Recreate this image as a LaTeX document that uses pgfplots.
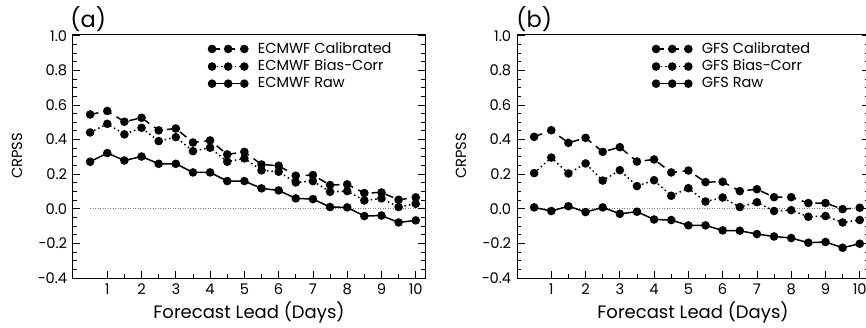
\documentclass[border=0pt]{standalone}
\usepackage{fontspec}
\setmainfont{Poppins}
\usepackage{pgfplots}
\pgfplotsset{compat=1.18}

\pgfplotsset{
  crp/.style={
    width=211.2pt, height=146.4pt, scale only axis, clip=false,
    xmin=0, xmax=10.27, ymin=-0.4, ymax=1.01,
    xtick={1,2,3,4,5,6,7,8,9,10}, minor x tick num=1,
    ytick={-0.4,-0.2,0,0.2,0.4,0.6,0.8,1.0},
    yticklabels={−0.4,−0.2,0.0,0.2,0.4,0.6,0.8,1.0},
    minor y tick num=3,
    tick align=inside,
    xtick pos=bottom, ytick pos=both, yticklabel pos=left,
    major tick length=4.5pt, minor tick length=2.5pt,
    tick style={black, line width=0.5pt},
    axis line style={line width=0.6pt},
    /pgf/number format/assume math mode=true,
    ticklabel style={font=\fontsize{8.8}{10}\selectfont},
    xlabel={Forecast Lead (Days)}, ylabel={CRPSS},
    xlabel style={font=\fontsize{10.8}{12}\selectfont, at={(axis description cs:0.5,-0.139)}, anchor=center},
    ylabel style={font=\fontsize{8.8}{10}\selectfont, at={(axis description cs:-0.159,0.5)}, anchor=center},
    legend style={draw=none, fill=none, at={(0.37,0.995)}, anchor=north west,
      font=\fontsize{8.7}{9}\selectfont, row sep=-1.6pt},
    legend cell align=left,
    legend image code/.code={\draw[mark repeat=1,mark phase=1] plot coordinates {(0cm,0cm) (0.34cm,0cm) (0.68cm,0cm)};\path (0.88cm,0);},
  },
  cal/.style={black, line width=0.9pt, dash pattern=on 5pt off 3.5pt, mark=*, mark size=2.1pt, mark options={solid, fill=black}},
  bia/.style={black, line width=0.9pt, dash pattern=on 0.9pt off 1.8pt, mark=*, mark size=2.1pt, mark options={solid, fill=black}},
  raw/.style={black, line width=0.9pt, solid, mark=*, mark size=2.1pt, mark options={solid, fill=black}},
}

\begin{document}
\begin{tikzpicture}
\begin{axis}[crp, at={(0pt,0pt)}, anchor=south west]
\addplot[gray, densely dotted, line width=0.5pt, forget plot] coordinates {(0.5,0) (10,0)};
\addplot[cal] coordinates {
(0.5,0.545) (1.0,0.565) (1.5,0.503) (2.0,0.526) (2.5,0.453) (3.0,0.464) (3.5,0.383) (4.0,0.395) (4.5,0.314) (5.0,0.329)
(5.5,0.256) (6.0,0.249) (6.5,0.191) (7.0,0.195) (7.5,0.137) (8.0,0.141) (8.5,0.091) (9.0,0.094) (9.5,0.052) (10.0,0.066)};
\addlegendentry{ECMWF Calibrated}
\addplot[bia] coordinates {
(0.5,0.441) (1.0,0.491) (1.5,0.430) (2.0,0.468) (2.5,0.391) (3.0,0.414) (3.5,0.333) (4.0,0.353) (4.5,0.272) (5.0,0.291)
(5.5,0.222) (6.0,0.214) (6.5,0.152) (7.0,0.160) (7.5,0.098) (8.0,0.102) (8.5,0.048) (9.0,0.060) (9.5,0.010) (10.0,0.029)};
\addlegendentry{ECMWF Bias−Corr}
\addplot[raw] coordinates {
(0.5,0.272) (1.0,0.322) (1.5,0.279) (2.0,0.302) (2.5,0.260) (3.0,0.260) (3.5,0.210) (4.0,0.210) (4.5,0.160) (5.0,0.160)
(5.5,0.118) (6.0,0.106) (6.5,0.060) (7.0,0.056) (7.5,0.010) (8.0,0.008) (8.5,-0.042) (9.0,-0.039) (9.5,-0.079) (10.0,-0.067)};
\addlegendentry{ECMWF Raw}
\node[anchor=base west, font=\fontsize{13.5}{15}\selectfont, inner sep=0pt] at ([shift={(-1.8pt,4.2pt)}]rel axis cs:0,1) {(a)};
\coordinate (aSW) at (rel axis cs:0,0);
\end{axis}
\begin{axis}[crp, at={(266.4pt,0pt)}, anchor=south west]
\addplot[gray, densely dotted, line width=0.5pt, forget plot] coordinates {(0.5,0) (10,0)};
\addplot[cal] coordinates {
(0.5,0.416) (1.0,0.454) (1.5,0.381) (2.0,0.410) (2.5,0.329) (3.0,0.356) (3.5,0.273) (4.0,0.285) (4.5,0.210) (5.0,0.221)
(5.5,0.154) (6.0,0.156) (6.5,0.102) (7.0,0.113) (7.5,0.067) (8.0,0.067) (8.5,0.033) (9.0,0.033) (9.5,-0.002) (10.0,0.006)};
\addlegendentry{GFS Calibrated}
\addplot[bia] coordinates {
(0.5,0.206) (1.0,0.296) (1.5,0.204) (2.0,0.262) (2.5,0.163) (3.0,0.223) (3.5,0.131) (4.0,0.165) (4.5,0.075) (5.0,0.119)
(5.5,0.042) (6.0,0.065) (6.5,0.010) (7.0,0.038) (7.5,-0.013) (8.0,-0.008) (8.5,-0.046) (9.0,-0.042) (9.5,-0.079) (10.0,-0.065)};
\addlegendentry{GFS Bias−Corr}
\addplot[raw] coordinates {
(0.5,0.008) (1.0,-0.013) (1.5,0.015) (2.0,-0.019) (2.5,0.008) (3.0,-0.029) (3.5,-0.017) (4.0,-0.062) (4.5,-0.065) (5.0,-0.096)
(5.5,-0.096) (6.0,-0.125) (6.5,-0.127) (7.0,-0.146) (7.5,-0.160) (8.0,-0.169) (8.5,-0.196) (9.0,-0.192) (9.5,-0.225) (10.0,-0.202)};
\addlegendentry{GFS Raw}
\node[anchor=base west, font=\fontsize{13.5}{15}\selectfont, inner sep=0pt] at ([shift={(-0.6pt,4.2pt)}]rel axis cs:0,1) {(b)};
\coordinate (bNW) at (rel axis cs:0,1);
\end{axis}
\pgfresetboundingbox
\path[use as bounding box] ([shift={(-43.8pt,-29.4pt)}]aSW) rectangle ([shift={(209.4pt,20.4pt)}]bNW);
\end{tikzpicture}
\end{document}
